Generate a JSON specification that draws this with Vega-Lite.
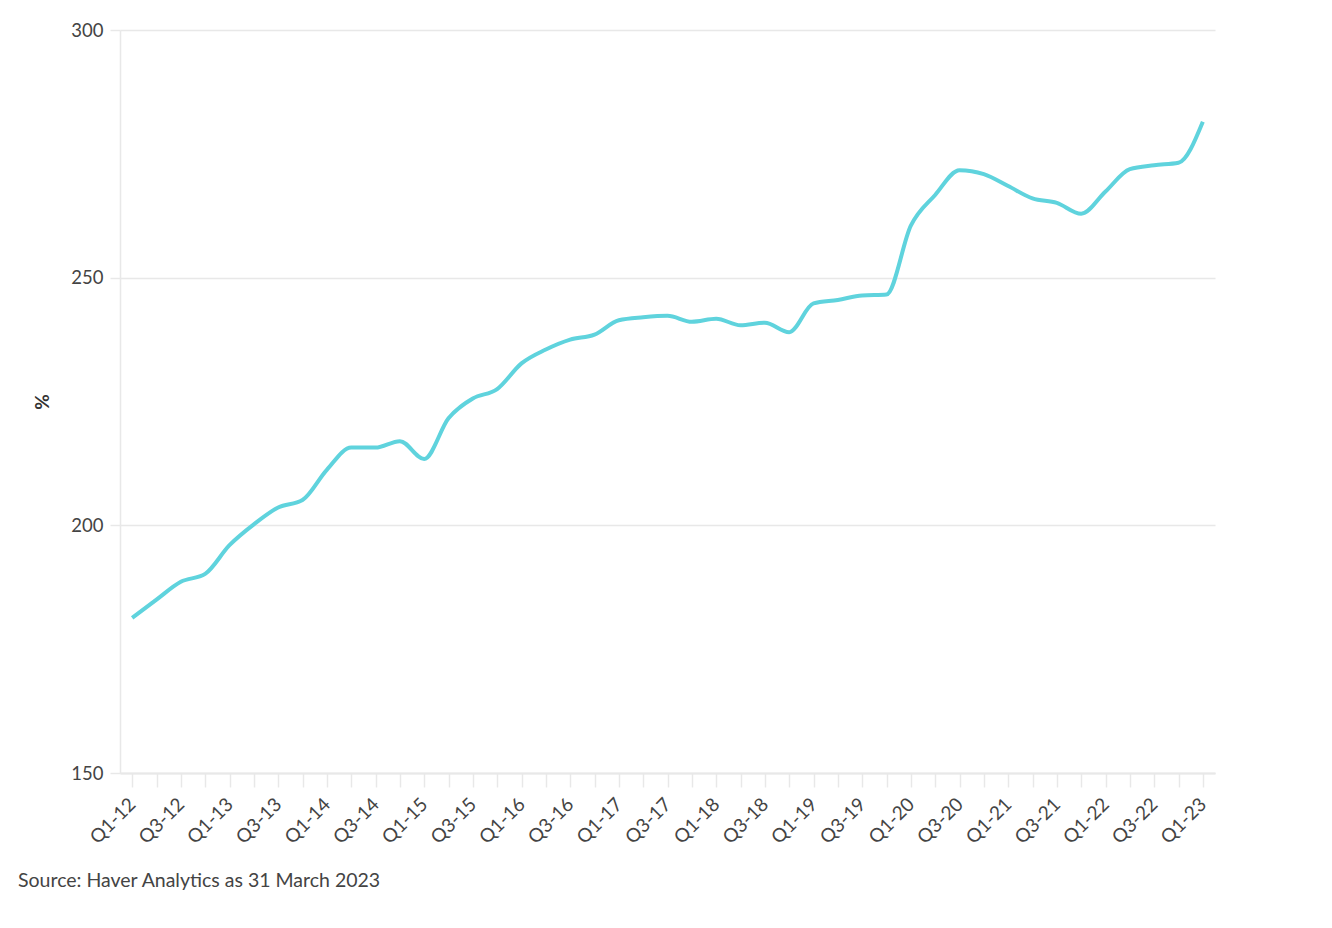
{
  "$schema": "https://vega.github.io/schema/vega-lite/v6.json",
  "width": 1095,
  "height": 743,
  "autosize": {"type": "none"},
  "padding": {"left": 120, "top": 30, "right": 117, "bottom": 155},
  "background": "white",
  "config": {
    "view": {"stroke": null},
    "font": "Lato"
  },
  "title": {
    "text": "Source: Haver Analytics as 31 March 2023",
    "orient": "bottom",
    "anchor": "start",
    "frame": "group",
    "dx": -102,
    "offset": 25,
    "font": "Lato",
    "fontSize": 19.5,
    "fontWeight": "normal",
    "color": "#444444"
  },
  "data": {
    "values": [
      {"q": "Q1-12", "v": 181.3},
      {"q": "Q2-12", "v": 185.0},
      {"q": "Q3-12", "v": 188.6},
      {"q": "Q4-12", "v": 190.2},
      {"q": "Q1-13", "v": 196.0},
      {"q": "Q2-13", "v": 200.2},
      {"q": "Q3-13", "v": 203.6},
      {"q": "Q4-13", "v": 205.1},
      {"q": "Q1-14", "v": 211.2},
      {"q": "Q2-14", "v": 215.7},
      {"q": "Q3-14", "v": 215.7},
      {"q": "Q4-14", "v": 217.0},
      {"q": "Q1-15", "v": 213.4},
      {"q": "Q2-15", "v": 221.6},
      {"q": "Q3-15", "v": 225.6},
      {"q": "Q4-15", "v": 227.5},
      {"q": "Q1-16", "v": 232.7},
      {"q": "Q2-16", "v": 235.5},
      {"q": "Q3-16", "v": 237.5},
      {"q": "Q4-16", "v": 238.5},
      {"q": "Q1-17", "v": 241.4},
      {"q": "Q2-17", "v": 242.0},
      {"q": "Q3-17", "v": 242.3},
      {"q": "Q4-17", "v": 241.1},
      {"q": "Q1-18", "v": 241.7},
      {"q": "Q2-18", "v": 240.4},
      {"q": "Q3-18", "v": 240.9},
      {"q": "Q4-18", "v": 239.0},
      {"q": "Q1-19", "v": 244.8},
      {"q": "Q2-19", "v": 245.5},
      {"q": "Q3-19", "v": 246.4},
      {"q": "Q4-19", "v": 246.6},
      {"q": "Q1-20", "v": 260.5},
      {"q": "Q2-20", "v": 266.7},
      {"q": "Q3-20", "v": 271.7},
      {"q": "Q4-20", "v": 270.9},
      {"q": "Q1-21", "v": 268.5},
      {"q": "Q2-21", "v": 266.0},
      {"q": "Q3-21", "v": 265.1},
      {"q": "Q4-21", "v": 262.9},
      {"q": "Q1-22", "v": 267.4},
      {"q": "Q2-22", "v": 271.9},
      {"q": "Q3-22", "v": 272.7},
      {"q": "Q4-22", "v": 273.2},
      {"q": "Q1-23", "v": 281.5}
    ]
  },
  "mark": {
    "type": "line",
    "interpolate": "monotone",
    "color": "#5fd3dd",
    "strokeWidth": 4,
    "strokeCap": "butt"
  },
  "encoding": {
    "x": {
      "field": "q",
      "type": "ordinal",
      "sort": null,
      "scale": {"type": "point", "padding": 0.5},
      "axis": {
        "title": null,
        "labelExpr": "(indexof(datum.value, 'Q2') == 0 || indexof(datum.value, 'Q4') == 0) ? '' : datum.value",
        "labelAngle": -45,
        "labelAlign": "right",
        "labelBaseline": "middle",
        "labelFont": "Lato",
        "labelFontSize": 19,
        "labelColor": "#444444",
        "labelPadding": 14,
        "labelOverlap": false,
        "domainColor": "#e8e8e8",
        "domainWidth": 2,
        "tickColor": "#e8e8e8",
        "tickSize": 14,
        "tickWidth": 1.5,
        "grid": false
      }
    },
    "y": {
      "field": "v",
      "type": "quantitative",
      "scale": {"domain": [150, 300], "nice": false, "zero": false},
      "axis": {
        "values": [150, 200, 250, 300],
        "title": "%",
        "titleFont": "Lato",
        "titleFontSize": 19,
        "titleFontWeight": "bold",
        "titleColor": "#333333",
        "titlePadding": 18,
        "labelFont": "Lato",
        "labelFontSize": 18.5,
        "labelColor": "#444444",
        "labelPadding": 7,
        "domainColor": "#e8e8e8",
        "domainWidth": 1.5,
        "tickColor": "#e8e8e8",
        "tickSize": 10,
        "tickWidth": 1.5,
        "grid": true,
        "gridColor": "#e8e8e8",
        "gridWidth": 1.5
      }
    }
  }
}
